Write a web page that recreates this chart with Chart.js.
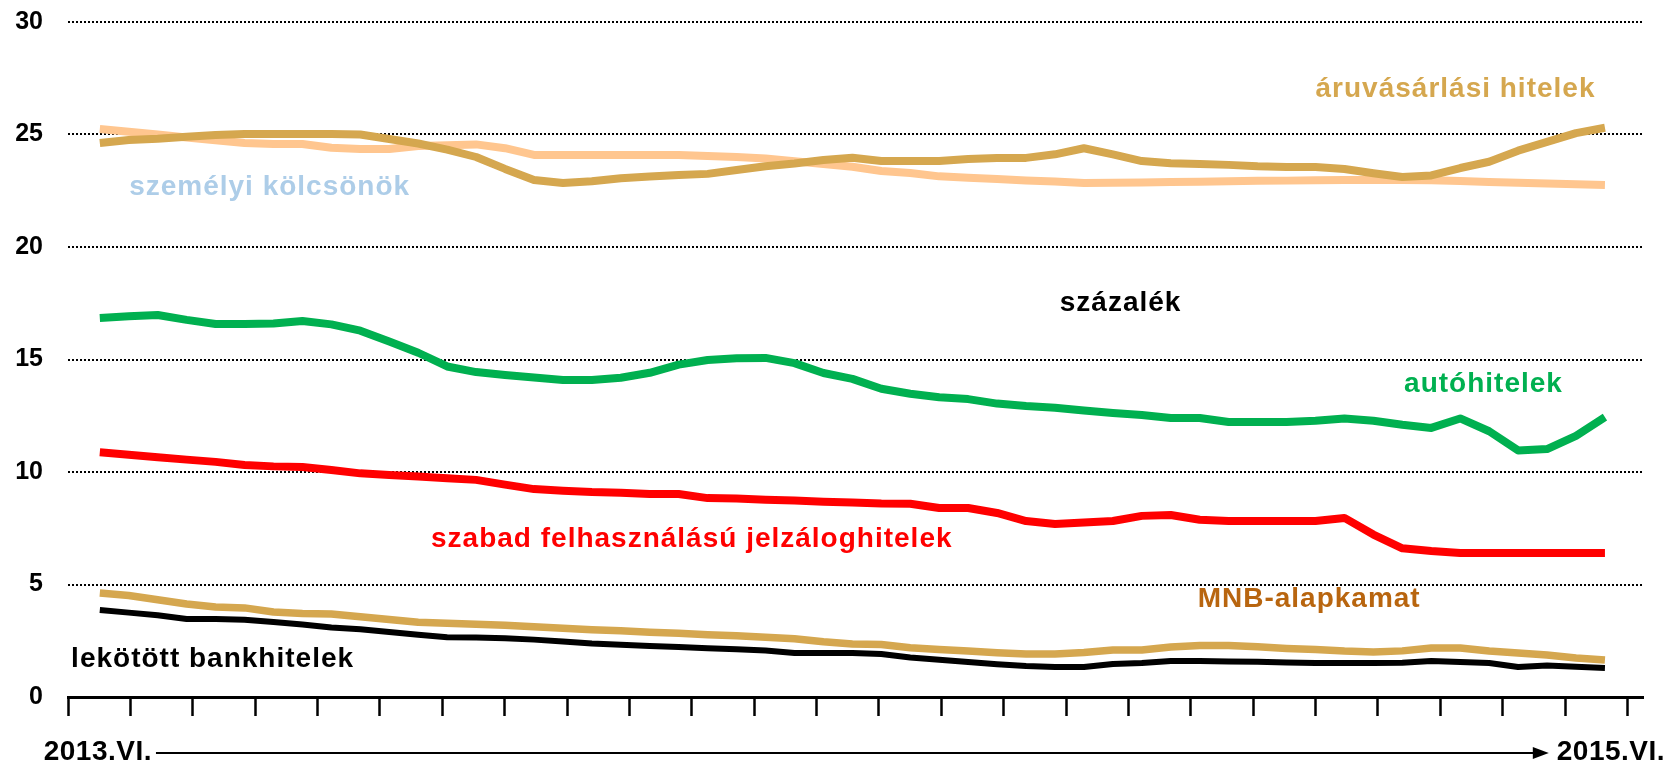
<!DOCTYPE html>
<html>
<head>
<meta charset="utf-8">
<script src="https://cdn.jsdelivr.net/npm/chart.js@4.4.1/dist/chart.umd.min.js"></script>
<style>
html,body{margin:0;padding:0;background:#fff;}
#wrap{width:1670px;height:762px;position:relative;}
</style>
</head>
<body>
<div id="wrap"><canvas id="c" width="1670" height="762"></canvas></div>
<script>
// ---- data (weekly observations, every second week shown) ----
const weeks = [0,2,4,6,8,10,12,14,16,18,20,22,24,26,28,30,32,34,36,38,40,42,44,46,48,50,52,54,56,58,60,62,64,66,68,70,72,74,76,78,80,82,84,86,88,90,92,94,96,98,100,102,104];

const aruvasarlasi = [24.62,24.76,24.81,24.9,24.98,25.02,25.02,25.02,25.02,25.0,24.8,24.6,24.33,24.0,23.47,22.98,22.84,22.92,23.06,23.13,23.2,23.25,23.42,23.59,23.71,23.87,23.97,23.82,23.82,23.82,23.91,23.96,23.96,24.12,24.39,24.12,23.82,23.72,23.69,23.65,23.59,23.56,23.56,23.47,23.28,23.11,23.18,23.51,23.79,24.28,24.67,25.06,25.3];

const szemelyi = [25.24,25.12,25.0,24.87,24.74,24.62,24.58,24.58,24.41,24.36,24.36,24.49,24.52,24.56,24.39,24.09,24.09,24.09,24.09,24.09,24.09,24.04,24.0,23.93,23.81,23.69,23.57,23.38,23.29,23.14,23.08,23.02,22.96,22.91,22.84,22.86,22.87,22.89,22.9,22.92,22.94,22.95,22.97,22.98,22.98,22.98,22.97,22.93,22.89,22.86,22.82,22.79,22.76];

const autohitel = [16.84,16.92,16.98,16.76,16.58,16.58,16.6,16.71,16.56,16.28,15.8,15.3,14.69,14.44,14.31,14.2,14.09,14.09,14.19,14.41,14.77,14.98,15.06,15.07,14.84,14.4,14.14,13.7,13.48,13.32,13.24,13.04,12.93,12.86,12.73,12.62,12.53,12.4,12.4,12.22,12.22,12.22,12.28,12.38,12.28,12.1,11.96,12.38,11.81,10.96,11.02,11.61,12.44];

const szabadJelzalog = [10.88,10.77,10.66,10.55,10.45,10.31,10.25,10.22,10.09,9.94,9.87,9.8,9.72,9.65,9.44,9.24,9.17,9.11,9.08,9.02,9.02,8.84,8.82,8.77,8.73,8.68,8.64,8.6,8.59,8.4,8.4,8.18,7.82,7.69,7.76,7.82,8.05,8.09,7.88,7.82,7.82,7.82,7.82,7.96,7.22,6.61,6.49,6.4,6.4,6.4,6.4,6.4,6.4];

const mnbAlapkamat = [4.62,4.51,4.32,4.13,4.0,3.96,3.78,3.71,3.69,3.57,3.44,3.32,3.28,3.23,3.19,3.12,3.06,2.99,2.94,2.88,2.83,2.77,2.72,2.66,2.59,2.46,2.36,2.33,2.19,2.11,2.04,1.97,1.91,1.91,1.98,2.09,2.09,2.22,2.29,2.29,2.23,2.16,2.11,2.04,2.0,2.05,2.18,2.18,2.04,1.96,1.87,1.73,1.64];

const lekotott = [3.87,3.75,3.63,3.47,3.47,3.43,3.33,3.22,3.09,3.01,2.89,2.77,2.66,2.64,2.61,2.55,2.47,2.38,2.32,2.27,2.22,2.17,2.12,2.07,1.96,1.96,1.96,1.91,1.76,1.66,1.56,1.46,1.38,1.33,1.33,1.47,1.51,1.6,1.6,1.58,1.57,1.53,1.51,1.51,1.51,1.52,1.6,1.56,1.51,1.33,1.4,1.34,1.29];

const yTicks = [0,5,10,15,20,25,30];
const monthTicks = [0,1,2,3,4,5,6,7,8,9,10,11,12,13,14,15,16,17,18,19,20,21,22,23,24,25];
const startLabel = "2013.VI.";
const endLabel = "2015.VI.";
const yUnit = "százalék";

// calendar conversion: first observation sits about half a month after the first tick
const FIRST_OBS_MONTH = 0.51;
const WEEKS_PER_MONTH = 4.31;
const toMonth = w => FIRST_OBS_MONTH + w / WEEKS_PER_MONTH;
const pts = arr => arr.map((v, i) => ({x: toMonth(weeks[i]), y: v}));

// series labels: [text, colour, x (months), y (percent, baseline)]
const seriesLabels = [
  ["áruvásárlási hitelek", "#D5A74F", 20.0, 26.67],
  ["személyi kölcsönök", "#ADCDE8", 0.98, 22.31],
  [yUnit, "#000000", 15.9, 17.16],
  ["autóhitelek", "#00B050", 21.42, 13.56],
  ["szabad felhasználású jelzáloghitelek", "#FF0000", 5.82, 6.67],
  ["MNB-alapkamat", "#B8650F", 18.11, 4.0],
  ["lekötött bankhitelek", "#000000", 0.05, 1.33]
];

const FONT = "'Liberation Sans', Arial, Helvetica, sans-serif";

const textPlugin = {
  id: 'texts',
  afterDatasetsDraw(chart) {
    const {ctx, scales: {x, y}} = chart;
    ctx.save();
    ctx.font = "bold 28px " + FONT;
    try { ctx.letterSpacing = "1px"; } catch(e) {}
    ctx.textAlign = "left";
    ctx.textBaseline = "alphabetic";
    seriesLabels.forEach(([t, c, mx, vy]) => {
      ctx.fillStyle = c;
      ctx.fillText(t, x.getPixelForValue(mx), y.getPixelForValue(vy));
    });
    // time labels and arrow
    ctx.fillStyle = "#000";
    try { ctx.letterSpacing = "0.5px"; } catch(e) {}
    const baseY = 760;
    const x0 = x.getPixelForValue(toMonth(weeks[0]));
    const x1 = x.getPixelForValue(toMonth(weeks[weeks.length - 1]));
    ctx.textAlign = "center";
    ctx.fillText(startLabel, x0 - 2, baseY);
    ctx.fillText(endLabel, x1 + 6, baseY);
    const s0 = ctx.measureText(startLabel).width;
    const s1 = ctx.measureText(endLabel).width;
    const ax0 = x0 - 2 + s0 / 2 + 4;
    const ax1 = x1 + 6 - s1 / 2 - 8;
    const ay = 753;
    ctx.strokeStyle = "#000";
    ctx.lineWidth = 2;
    ctx.beginPath();
    ctx.moveTo(ax0, ay);
    ctx.lineTo(ax1 - 14, ay);
    ctx.stroke();
    ctx.beginPath();
    ctx.moveTo(ax1, ay);
    ctx.lineTo(ax1 - 16, ay - 6);
    ctx.lineTo(ax1 - 16, ay + 6);
    ctx.closePath();
    ctx.fill();
    ctx.restore();
  }
};

const lineDs = (label, data, color, width, order) => ({
  label, data: pts(data), borderColor: color, backgroundColor: color,
  borderWidth: width, pointRadius: 0, tension: 0, fill: false,
  borderJoinStyle: 'round', borderCapStyle: 'butt', clip: false, order
});

new Chart(document.getElementById('c'), {
  type: 'line',
  data: {
    datasets: [
      lineDs("áruvásárlási hitelek", aruvasarlasi, "#D5A74F", 8, 1),
      lineDs("személyi kölcsönök", szemelyi, "#FFC68F", 8, 2),
      lineDs("autóhitelek", autohitel, "#00B050", 8, 3),
      lineDs("szabad felhasználású jelzáloghitelek", szabadJelzalog, "#FF0000", 8, 4),
      lineDs("MNB-alapkamat", mnbAlapkamat, "#D5A74F", 7.5, 5),
      lineDs("lekötött bankhitelek", lekotott, "#000000", 6, 6)
    ]
  },
  options: {
    responsive: false,
    animation: false,
    devicePixelRatio: 1,
    layout: {padding: {top: 22, right: 27, bottom: 0, left: 0}},
    plugins: {legend: {display: false}, tooltip: {enabled: false}},
    scales: {
      x: {
        type: 'linear', min: 0, max: 25.25,
        afterBuildTicks: s => { s.ticks = monthTicks.map(v => ({value: v})); },
        afterFit: s => { s.height = 65; },
        ticks: {display: false},
        grid: {display: true, drawOnChartArea: false, drawTicks: true, tickLength: 19, tickWidth: 2.5, tickColor: '#000'},
        border: {display: true, color: '#000', width: 3}
      },
      y: {
        min: 0, max: 30,
        afterBuildTicks: s => { s.ticks = yTicks.map(v => ({value: v})); },
        afterFit: s => { s.width = 68; },
        ticks: {
          padding: 0, color: '#000',
          font: {family: FONT, size: 25, weight: 'bold'},
          callback: v => String(v)
        },
        grid: {
          drawTicks: true, tickLength: 25, tickColor: 'rgba(0,0,0,0)', lineWidth: 2,
          color: c => (c.tick && c.tick.value === 0) ? 'rgba(0,0,0,0)' : '#000'
        },
        border: {display: false, dash: [2, 2]}
      }
    }
  },
  plugins: [textPlugin]
});
</script>
</body>
</html>
